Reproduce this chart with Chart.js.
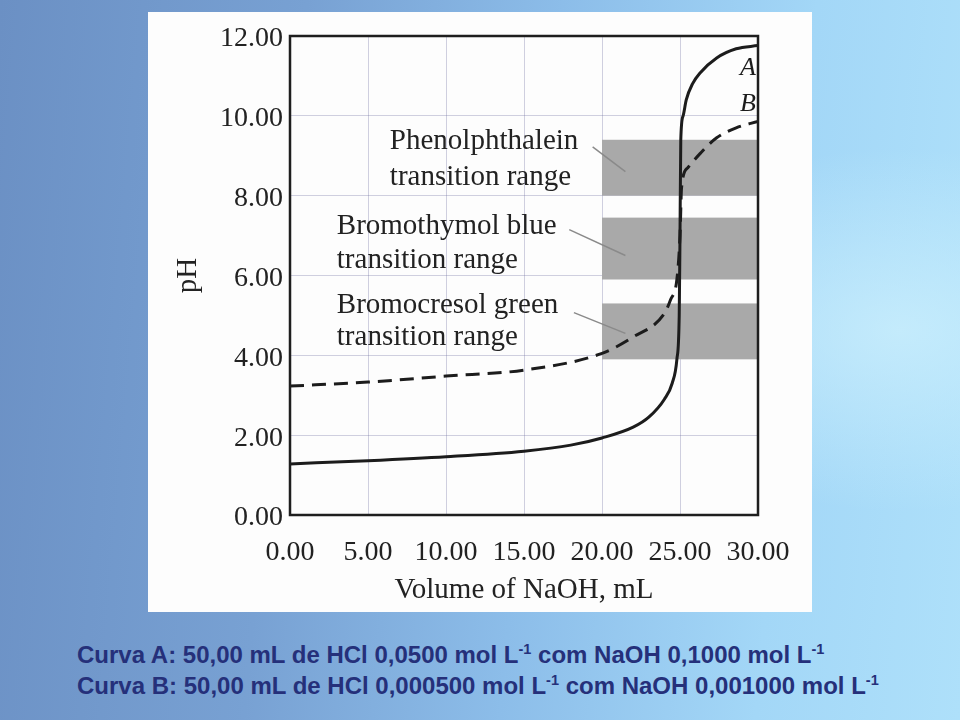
<!DOCTYPE html>
<html>
<head>
<meta charset="utf-8">
<script src="https://cdn.jsdelivr.net/npm/chart.js@4.4.1/dist/chart.umd.min.js"></script>
<style>
  html, body { margin: 0; padding: 0; }
  body {
    width: 960px; height: 720px; overflow: hidden; position: relative;
    background:
      radial-gradient(ellipse 420px 260px at 900px 330px, rgba(205,240,253,0.75), rgba(205,240,253,0) 70%),
      linear-gradient(95deg, #6b90c4 0%, #78a1d3 30%, #8cbde9 55%, #a3d7f7 80%, #aee0fa 100%);
  }
  #panel {
    position: absolute; left: 148px; top: 12px; width: 664px; height: 600px;
    background: #fdfdfd;
  }
  .cap {
    position: absolute; left: 77px; margin: 0;
    font-family: "Liberation Sans", Arial, sans-serif; font-weight: bold;
    font-size: 24px; color: #25307a; white-space: nowrap;
  }
  .cap sup { font-size: 14.5px; vertical-align: 9px; line-height: 0; }
</style>
</head>
<body>
<div id="panel"><canvas id="chart-titulacao" width="664" height="600"></canvas></div>
<p class="cap" style="top:641px">Curva A: 50,00 mL de HCl 0,0500 mol L<sup>-1</sup> com NaOH 0,1000 mol L<sup>-1</sup></p>
<p class="cap" style="top:672px">Curva B: 50,00 mL de HCl 0,000500 mol L<sup>-1</sup> com NaOH 0,001000 mol L<sup>-1</sup></p>

<script>
// curve A: 0.0500 M HCl with 0.1000 M NaOH
const volumeA = [0, 5, 10, 15, 18, 20, 22, 23, 24, 24.5, 24.8, 24.95, 25, 25.05, 25.2, 25.4, 25.8, 26.3, 27.35, 28.6, 30];
const phA     = [1.28, 1.36, 1.46, 1.6, 1.75, 1.93, 2.2, 2.45, 2.9, 3.3, 3.9, 5.0, 7.0, 9.4, 10.0, 10.4, 10.8, 11.08, 11.45, 11.68, 11.76];

// curve B: 0.000500 M HCl with 0.001000 M NaOH
const volumeB = [0, 5, 10, 15, 20, 22, 24, 24.4, 24.8, 25, 25.1, 25.5, 26.3, 27.35, 28.6, 30];
const phB     = [3.23, 3.33, 3.48, 3.63, 4.05, 4.46, 5.05, 5.4, 5.9, 7.0, 8.2, 8.7, 9.06, 9.45, 9.7, 9.86];

// indicator transition ranges (pH low, pH high), from 20 mL to the end
const indicatorNames = ['Phenolphthalein', 'Bromothymol blue', 'Bromocresol green'];
const rangeLow  = [8.0, 5.9, 3.9];
const rangeHigh = [9.4, 7.45, 5.3];
const rangeStart = 20;

const xTicks = [0, 5, 10, 15, 20, 25, 30];
const yTicks = [0, 2, 4, 6, 8, 10, 12];

const COLORS = {
  curve: '#1c1c1c',
  band:  '#a9a9a9',
  grid:  'rgba(120,120,165,0.35)',
  text:  '#222',
  leader:'#8a8a8a',
};
const SERIF = '"Liberation Serif", "DejaVu Serif", serif';

// where the label blocks sit (x, y of each line, in data units) and their leader lines
const labelSpots = [
  { x: 6.4, y: [9.35, 8.47], from: [19.4, 9.22], to: [21.5, 8.6] },
  { x: 3.0, y: [7.22, 6.39], from: [17.9, 7.15], to: [21.5, 6.5] },
  { x: 3.0, y: [5.26, 4.44], from: [18.2, 5.07], to: [21.5, 4.55] },
];

const bandsPlugin = {
  id: 'bands',
  beforeDatasetsDraw(chart) {
    const { ctx, scales: { x, y } } = chart;
    ctx.save();
    ctx.fillStyle = COLORS.band;
    rangeLow.forEach((lo, i) => {
      const x0 = x.getPixelForValue(rangeStart), x1 = x.getPixelForValue(x.max);
      const y0 = y.getPixelForValue(rangeHigh[i]), y1 = y.getPixelForValue(lo);
      ctx.fillRect(x0, y0, x1 - x0, y1 - y0);
    });
    ctx.restore();
  },
  afterDatasetsDraw(chart) {
    const { ctx, chartArea: a, scales: { x, y } } = chart;
    ctx.save();
    // labels and leader lines
    ctx.font = '29px ' + SERIF;
    ctx.fillStyle = COLORS.text;
    ctx.textBaseline = 'middle';
    ctx.textAlign = 'left';
    labelSpots.forEach((s, i) => {
      const px = x.getPixelForValue(s.x);
      ctx.fillText(indicatorNames[i], px, y.getPixelForValue(s.y[0]));
      ctx.fillText('transition range', px, y.getPixelForValue(s.y[1]));
      ctx.strokeStyle = COLORS.leader;
      ctx.lineWidth = 1.5;
      ctx.beginPath();
      ctx.moveTo(x.getPixelForValue(s.from[0]), y.getPixelForValue(s.from[1]));
      ctx.lineTo(x.getPixelForValue(s.to[0]), y.getPixelForValue(s.to[1]));
      ctx.stroke();
    });
    // curve letters
    ctx.font = 'italic 26px ' + SERIF;
    ctx.fillStyle = COLORS.curve;
    ctx.fillText('A', x.getPixelForValue(28.85), y.getPixelForValue(11.2));
    ctx.fillText('B', x.getPixelForValue(28.85), y.getPixelForValue(10.28));
    // plot frame
    ctx.strokeStyle = '#1e1e1e';
    ctx.lineWidth = 2.5;
    ctx.strokeRect(a.left, a.top, a.right - a.left, a.bottom - a.top);
    ctx.restore();
  },
};

const tickFont = { family: SERIF, size: 28 };
const titleFont = { family: SERIF, size: 29 };

new Chart(document.getElementById('chart-titulacao'), {
  type: 'line',
  data: {
    datasets: [
      {
        label: 'A',
        data: volumeA.map((v, i) => ({ x: v, y: phA[i] })),
        borderColor: COLORS.curve,
        borderWidth: 3,
        pointRadius: 0,
        cubicInterpolationMode: 'monotone',
      },
      {
        label: 'B',
        data: volumeB.map((v, i) => ({ x: v, y: phB[i] })),
        borderColor: COLORS.curve,
        borderWidth: 3,
        borderDash: [14, 8],
        pointRadius: 0,
        cubicInterpolationMode: 'monotone',
      },
    ],
  },
  options: {
    responsive: false,
    animation: false,
    layout: { padding: { top: 24, right: 54, left: 0, bottom: 0 } },
    plugins: { legend: { display: false }, tooltip: { enabled: false } },
    scales: {
      x: {
        type: 'linear', min: 0, max: 30,
        afterBuildTicks: s => { s.ticks = xTicks.map(v => ({ value: v })); },
        afterFit: s => { s.height = 97; },
        grid: { color: COLORS.grid, drawTicks: false },
        border: { display: false },
        ticks: { font: tickFont, color: COLORS.text, padding: 21, maxRotation: 0,
                 callback: v => v.toFixed(2) },
        title: { display: true, text: 'Volume of NaOH, mL', font: titleFont, color: COLORS.text,
                 padding: { top: 0, bottom: 4 } },
      },
      y: {
        min: 0, max: 12,
        afterBuildTicks: s => { s.ticks = yTicks.map(v => ({ value: v })); },
        afterFit: s => { s.width = 142; },
        grid: { color: COLORS.grid, drawTicks: false },
        border: { display: false },
        ticks: { font: tickFont, color: COLORS.text, padding: 7, labelOffset: 3,
                 callback: v => v.toFixed(2) },
        title: { display: true, text: 'pH', font: titleFont, color: COLORS.text,
                 padding: { top: 23, bottom: 0 } },
      },
    },
  },
  plugins: [bandsPlugin],
});
</script>
</body>
</html>
